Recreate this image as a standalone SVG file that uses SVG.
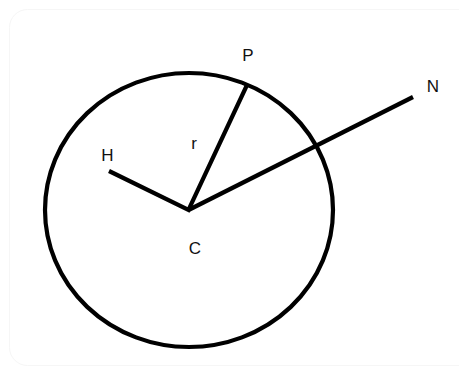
<svg xmlns="http://www.w3.org/2000/svg" width="459" height="372" viewBox="0 0 459 372">
  <style>
    .ln { stroke: #000; stroke-width: 4.2; fill: none; stroke-linecap: butt; stroke-linejoin: miter; }
    .lbl { font-family: "Liberation Sans", Arial, sans-serif; font-size: 17px; fill: #111; text-anchor: middle; }
  </style>
  <rect x="0" y="0" width="459" height="372" fill="#fff"/>
  <rect x="9.5" y="9.5" width="470" height="356" rx="18" fill="none" stroke="#f6f6f6" stroke-width="1"/>
  <g id="circle">
    <ellipse class="ln" cx="189" cy="210" rx="144" ry="137"/>
  </g>
  <g id="connectors">
    <polyline class="ln" points="109,171 188.5,210 247,85"/>
    <line class="ln" x1="188.5" y1="210" x2="413" y2="97"/>
  </g>
  <g id="node-P"><text class="lbl" x="248" y="61">P</text></g>
  <g id="node-N"><text class="lbl" x="433" y="92">N</text></g>
  <g id="node-H"><text class="lbl" x="107.5" y="161">H</text></g>
  <g id="label-r"><text class="lbl" x="194" y="149">r</text></g>
  <g id="node-C"><text class="lbl" x="195" y="254">C</text></g>
</svg>
